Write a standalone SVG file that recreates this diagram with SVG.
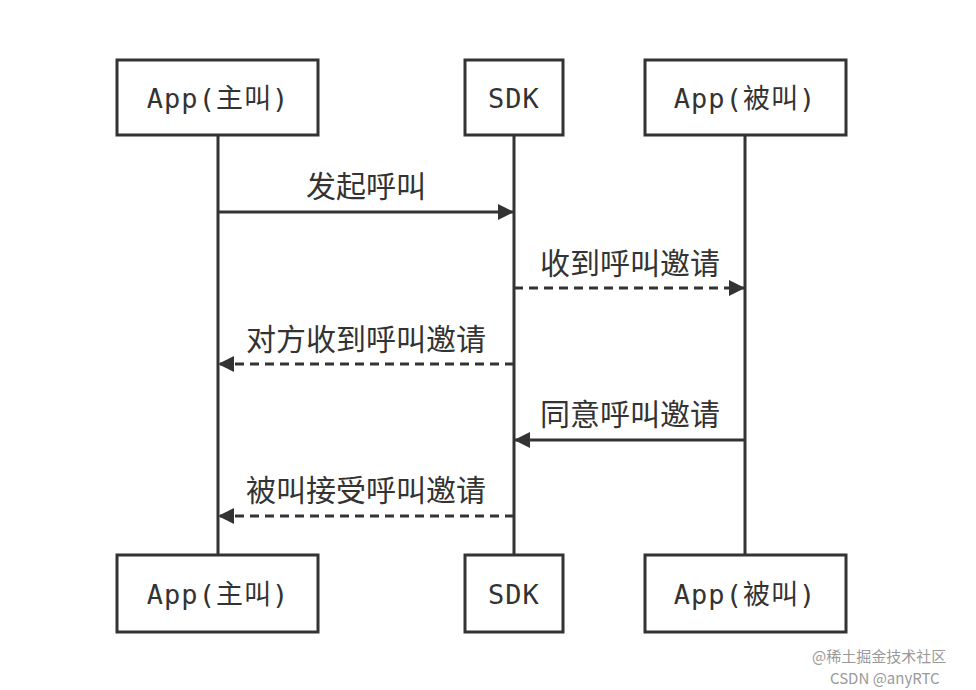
<svg xmlns="http://www.w3.org/2000/svg" width="976" height="690" viewBox="0 0 976 690">
<style>
.box{fill:#fff;stroke:#333;stroke-width:3}
.lt{font-family:"DejaVu Sans Mono","Noto Sans CJK SC",monospace;font-size:27px;fill:#333;text-anchor:middle;letter-spacing:1px}
.ml{font-family:"Noto Sans CJK SC",sans-serif;font-size:30px;fill:#333;text-anchor:middle}
.life{stroke:#333;stroke-width:3}
.msg{stroke:#333;stroke-width:3;fill:none}
.dash{stroke-dasharray:9,6}
.wm{font-family:"Noto Sans CJK SC",sans-serif;font-size:15px;fill:#999}
</style>
<defs>
<marker id="ah" viewBox="0 0 16 16" refX="16" refY="8" markerWidth="16" markerHeight="16" orient="auto" markerUnits="userSpaceOnUse"><path d="M0,0L16,8L0,16z" fill="#333"/></marker></defs>
<rect width="976" height="690" fill="#fff"/>
<g id="lifelines">
<line class="life" x1="218" y1="135" x2="218" y2="555"/>
<line class="life" x1="514" y1="135" x2="514" y2="555"/>
<line class="life" x1="745" y1="135" x2="745" y2="555"/>
</g>
<g id="connectors">
<line class="msg" x1="218" y1="212" x2="514" y2="212" marker-end="url(#ah)"/>
<text class="ml" x="366" y="197">发起呼叫</text>
<line class="msg dash" x1="514" y1="288" x2="745" y2="288" marker-end="url(#ah)"/>
<text class="ml" x="630" y="274">收到呼叫邀请</text>
<line class="msg dash" x1="514" y1="364" x2="218" y2="364" marker-end="url(#ah)"/>
<text class="ml" x="366" y="350">对方收到呼叫邀请</text>
<line class="msg" x1="745" y1="440" x2="514" y2="440" marker-end="url(#ah)"/>
<text class="ml" x="630" y="425">同意呼叫邀请</text>
<line class="msg dash" x1="514" y1="516" x2="218" y2="516" marker-end="url(#ah)"/>
<text class="ml" x="366" y="501">被叫接受呼叫邀请</text>
</g>
<g id="caller-top"><rect class="box" x="117" y="60" width="201" height="75"/><text class="lt" x="218" y="108">App(主叫)</text></g>
<g id="sdk-top"><rect class="box" x="465" y="60" width="98" height="75"/><text class="lt" x="514" y="108">SDK</text></g>
<g id="callee-top"><rect class="box" x="645" y="60" width="201" height="75"/><text class="lt" x="745" y="108">App(被叫)</text></g>
<g id="caller-bottom"><rect class="box" x="117" y="555" width="201" height="77"/><text class="lt" x="218" y="604">App(主叫)</text></g>
<g id="sdk-bottom"><rect class="box" x="465" y="555" width="98" height="77"/><text class="lt" x="514" y="604">SDK</text></g>
<g id="callee-bottom"><rect class="box" x="645" y="555" width="201" height="77"/><text class="lt" x="745" y="604">App(被叫)</text></g>
<text class="wm" x="812" y="662">@稀土掘金技术社区</text>
<text class="wm" x="830" y="684">CSDN @anyRTC</text>
</svg>
